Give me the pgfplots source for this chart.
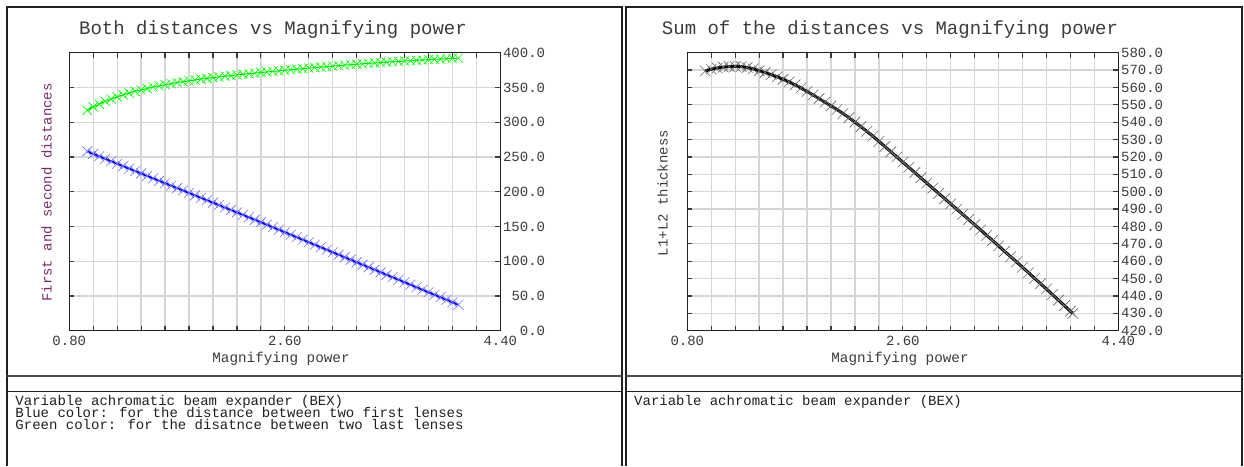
\documentclass[border=0pt]{standalone}
\usepackage{fontspec}
\setmainfont{Liberation Mono}
\usepackage{pgfplots}
\usepackage{pgfplotstable}
\pgfplotsset{compat=1.18}
\definecolor{framec}{HTML}{202020}
\definecolor{gridc}{HTML}{D6D6D6}
\definecolor{textc}{HTML}{3C3C3C}
\definecolor{ylab}{HTML}{7A2C6A}
\definecolor{greenm}{HTML}{00FF00}
\definecolor{greenl}{HTML}{00E000}
\definecolor{bluem}{HTML}{7373FF}
\definecolor{bluel}{HTML}{0000E0}
\definecolor{blackm}{HTML}{6A6A6A}

% distance between the two last lenses
\pgfplotstableread{
x y
0.95 317
1.00 322
1.05 326
1.10 330
1.15 333.5
1.20 336.5
1.25 339.5
1.30 342
1.35 344.5
1.40 346.5
1.45 348.5
1.50 350.5
1.55 352.3
1.60 354
1.65 355.5
1.70 357
1.75 358.3
1.80 359.6
1.85 360.8
1.90 362
1.95 363.1
2.00 364.2
2.05 365.2
2.10 366.2
2.15 367.1
2.20 368
2.25 368.9
2.30 369.8
2.35 370.7
2.40 371.5
2.45 372.3
2.50 373.1
2.55 373.9
2.60 374.7
2.65 375.5
2.70 376.3
2.75 377.1
2.80 377.9
2.85 378.6
2.90 379.3
2.95 380
3.00 380.7
3.05 381.4
3.10 382.1
3.15 382.8
3.20 383.4
3.25 384
3.30 384.6
3.35 385.2
3.40 385.8
3.45 386.4
3.50 387
3.55 387.5
3.60 388
3.65 388.5
3.70 389
3.75 389.5
3.80 390
3.85 390.5
3.90 391
3.95 391.4
4.00 391.8
4.05 392.2
}\greendata

% distance between the two first lenses
\pgfplotstableread{
x y
0.95 258
1.00 254.4
1.05 250.9
1.10 247.3
1.15 243.8
1.20 240.2
1.25 236.7
1.30 233.2
1.35 229.7
1.40 226.2
1.45 222.7
1.50 219.2
1.55 215.7
1.60 212.2
1.65 208.7
1.70 205.2
1.75 201.7
1.80 198.2
1.85 194.7
1.90 191.2
1.95 187.7
2.00 184.2
2.05 180.7
2.10 177.2
2.15 173.7
2.20 170.2
2.25 166.7
2.30 163.1
2.35 159.6
2.40 156
2.45 152.5
2.50 148.9
2.55 145.3
2.60 141.7
2.65 138.1
2.70 134.5
2.75 130.9
2.80 127.3
2.85 123.7
2.90 120.1
2.95 116.5
3.00 112.9
3.05 109.3
3.10 105.7
3.15 102.1
3.20 98.5
3.25 94.9
3.30 91.3
3.35 87.7
3.40 84.1
3.45 80.5
3.50 76.9
3.55 73.3
3.60 69.7
3.65 66.1
3.70 62.5
3.75 58.9
3.80 55.3
3.85 51.7
3.90 48.1
3.95 44.5
4.00 40.9
4.05 37.3
}\bluedata

% L1+L2 thickness
\pgfplotstableread{
x y
0.95 569.5
1.00 570.5
1.05 571.2
1.10 571.7
1.15 572
1.20 572.1
1.25 572
1.30 571.5
1.35 570.7
1.40 569.6
1.45 568.6
1.50 567.4
1.55 566.1
1.60 564.7
1.65 563.2
1.70 561.5
1.75 559.7
1.80 557.7
1.85 555.7
1.90 553.6
1.95 551.5
2.00 549.4
2.05 547.3
2.10 545
2.15 542.6
2.20 540
2.25 537.4
2.30 534.7
2.35 532
2.40 529
2.45 526
2.50 523
2.55 520
2.60 517
2.65 514
2.70 511
2.75 508
2.80 505
2.85 502
2.90 499
2.95 496
3.00 493
3.05 490
3.10 487
3.15 484
3.20 481
3.25 478
3.30 474.9
3.35 471.9
3.40 468.8
3.45 465.7
3.50 462.6
3.55 459.6
3.60 456.5
3.65 453.4
3.70 450.2
3.75 447.1
3.80 444
3.85 440.8
3.90 437.6
3.95 434.4
4.00 431.2
4.02 430
}\sumdata

\pgfplotsset{
  beamax/.style={
    scale only axis, width=431pt, height=278pt, anchor=south west,
    xmin=0.8, xmax=4.4,
    xtick={0.8,2.6,4.4},
    minor xtick={1.0,1.2,1.4,1.6,1.8,2.0,2.2,2.4,2.8,3.0,3.2,3.4,3.6,3.8,4.0,4.2},
    grid=both,
    major grid style={gridc, line width=1.3pt},
    minor grid style={gridc, line width=1.3pt},
    axis line style={framec, line width=1.4pt},
    tick style={textc, line width=1.2pt},
    major tick length=5pt, minor tick length=5pt,
    yticklabel pos=right,
    tick label style={font=\fontsize{14}{14}\selectfont, text=textc, inner sep=0pt},
    xticklabel style={anchor=center, yshift=-10.3pt,
      /pgf/number format/fixed, /pgf/number format/fixed zerofill,
      /pgf/number format/precision=2, /pgf/number format/assume math mode=true},
    yticklabel style={anchor=east, xshift=45pt,
      /pgf/number format/fixed, /pgf/number format/fixed zerofill,
      /pgf/number format/precision=1, /pgf/number format/assume math mode=true},
  }
}

\begin{document}
\begin{tikzpicture}
  \useasboundingbox (0pt,0pt) rectangle (1244pt,-466pt);
  \fill[white] (0pt,0pt) rectangle (1244pt,-466pt);

  % panel frames
  \draw[framec, line width=1.5pt] (7pt,-466pt) -- (7pt,-7pt) -- (622pt,-7pt) -- (622pt,-466pt);
  \draw[framec!80, line width=2pt] (7pt,-376pt) -- (622pt,-376pt);
  \draw[framec, line width=1.5pt] (7pt,-391.5pt) -- (622pt,-391.5pt);
  \draw[framec, line width=1.5pt] (626pt,-466pt) -- (626pt,-7pt) -- (1242pt,-7pt) -- (1242pt,-466pt);
  \draw[framec!80, line width=2pt] (626pt,-376pt) -- (1242pt,-376pt);
  \draw[framec, line width=1.5pt] (626pt,-391.5pt) -- (1242pt,-391.5pt);

  % left chart
  \begin{axis}[beamax, at={(69.3pt,-330.7pt)},
      ymin=0, ymax=400, ytick={0,50,...,400}]
    \addplot[bluem, only marks, mark=x, mark size=7pt, mark options={line width=0.6pt}] table {\bluedata};
    \addplot[bluel, line width=2pt, no marks] table {\bluedata};
    \addplot[greenm, only marks, mark=x, mark size=6.5pt, mark options={line width=0.6pt}] table {\greendata};
    \addplot[greenl, line width=1pt, no marks] table {\greendata};
    \draw[textc, line width=1.2pt] (axis cs:2.6,0) -- ++(0pt,-5pt);
  \end{axis}

  % right chart
  \begin{axis}[beamax, at={(687.3pt,-330.7pt)},
      ymin=420, ymax=580, ytick={420,430,...,580}]
    \addplot[blackm, only marks, mark=x, mark size=7.5pt, mark options={line width=0.6pt}] table {\sumdata};
    \addplot[black, line width=3pt, no marks] table {\sumdata};
    \draw[textc, line width=1.2pt] (axis cs:2.6,420) -- ++(0pt,-5pt);
  \end{axis}

  % titles and labels
  \node[text=textc, font=\fontsize{19}{19}\selectfont] at (273pt,-29.3pt) {Both distances vs Magnifying power};
  \node[text=textc, font=\fontsize{19}{19}\selectfont] at (890pt,-29.3pt) {Sum of the distances vs Magnifying power};
  \node[text=textc, font=\fontsize{14.3}{14}\selectfont] at (281pt,-358.5pt) {Magnifying power};
  \node[text=textc, font=\fontsize{14.3}{14}\selectfont] at (900pt,-358.5pt) {Magnifying power};
  \node[text=ylab, rotate=90, font=\fontsize{14}{14}\selectfont] at (46.7pt,-192.5pt) {First and second distances};
  \node[text=textc, rotate=90, font=\fontsize{14}{14}\selectfont] at (662.7pt,-193pt) {L1+L2 thickness};

  % notes under the charts
  \begin{scope}[every node/.style={anchor=base west, inner sep=0pt, text=framec, font=\fontsize{14}{12}\selectfont}]
    \node at (15.3pt,-405pt) {Variable achromatic beam expander (BEX)};
    \node at (15.3pt,-417pt) {Blue color: for the distance between two first lenses};
    \node at (15.3pt,-429pt) {Green color: for the disatnce between two last lenses};
    \node at (634pt,-405pt) {Variable achromatic beam expander (BEX)};
  \end{scope}
\end{tikzpicture}
\end{document}
